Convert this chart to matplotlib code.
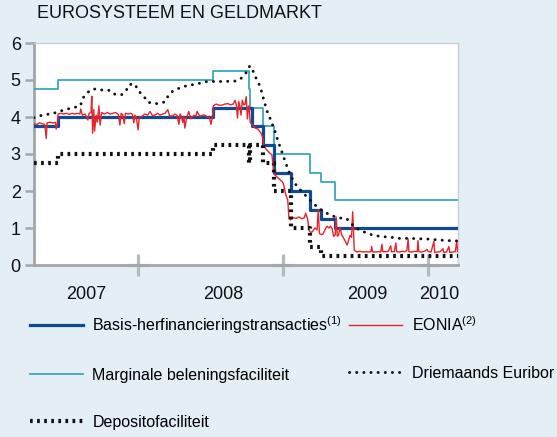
import matplotlib
matplotlib.use("Agg")
import matplotlib.pyplot as plt
import matplotlib.dates as mdates
from matplotlib.lines import Line2D
import pandas as pd

plt.rcParams['font.family'] = ['Liberation Sans', 'DejaVu Sans']
plt.rcParams['mathtext.fontset'] = 'custom'
plt.rcParams['mathtext.rm'] = 'Liberation Sans'
plt.rcParams['mathtext.it'] = 'Liberation Sans'

# ---------------- data ----------------
x_start = '2007-04-13'
x_end = '2010-03-19'

mro_dates = ['2007-04-13', '2007-06-13', '2008-07-09', '2008-10-15', '2008-11-12',
             '2008-12-10', '2009-01-21', '2009-03-11', '2009-04-08', '2009-05-13', '2010-03-19']
mro_values = [3.75, 4.00, 4.25, 3.75, 3.25, 2.50, 2.00, 1.50, 1.25, 1.00, 1.00]

mlf_dates = ['2007-04-13', '2007-06-13', '2008-07-09', '2008-10-08', '2008-10-09',
             '2008-11-12', '2008-12-10', '2009-03-11', '2009-04-08', '2009-05-13', '2010-03-19']
mlf_values = [4.75, 5.00, 5.25, 4.75, 4.25, 3.75, 3.00, 2.50, 2.25, 1.75, 1.75]

dep_dates = ['2007-04-13', '2007-06-13', '2008-07-09', '2008-10-08', '2008-10-09',
             '2008-11-12', '2008-12-10', '2009-01-21', '2009-03-11', '2009-04-08', '2010-03-19']
dep_values = [2.75, 3.00, 3.25, 2.75, 3.25, 2.75, 2.00, 1.00, 0.50, 0.25, 0.25]

euribor_dates = ['2007-04-13', '2007-05-01', '2007-06-01', '2007-07-01', '2007-08-01', '2007-08-08',
                 '2007-08-15', '2007-09-01', '2007-09-15', '2007-10-01', '2007-10-20', '2007-11-01',
                 '2007-11-20', '2007-12-01', '2007-12-10', '2007-12-24', '2008-01-01', '2008-01-15',
                 '2008-01-25', '2008-02-15', '2008-03-01', '2008-03-10', '2008-03-18', '2008-04-01',
                 '2008-05-01', '2008-06-01', '2008-06-15', '2008-07-01', '2008-08-01', '2008-09-01',
                 '2008-09-15', '2008-09-30', '2008-10-09', '2008-10-15', '2008-10-23', '2008-11-01',
                 '2008-11-07', '2008-11-15', '2008-11-22', '2008-12-01', '2008-12-12', '2008-12-20',
                 '2008-12-31', '2009-01-08', '2009-01-16', '2009-01-28', '2009-02-06', '2009-02-18',
                 '2009-03-06', '2009-03-23', '2009-04-08', '2009-04-25', '2009-05-08', '2009-05-25',
                 '2009-06-10', '2009-06-26', '2009-07-12', '2009-07-30', '2009-08-15', '2009-09-05',
                 '2009-10-01', '2009-10-20', '2009-11-15', '2009-12-10', '2010-01-05', '2010-01-25',
                 '2010-02-20', '2010-03-19']
euribor_values = [3.98, 4.04, 4.10, 4.20, 4.28, 4.30,
                  4.52, 4.72, 4.76, 4.73, 4.72, 4.62,
                  4.60, 4.70, 4.88, 4.89, 4.71, 4.57,
                  4.40, 4.36, 4.38, 4.42, 4.60, 4.73,
                  4.84, 4.90, 4.95, 4.96, 4.96, 4.97,
                  5.02, 5.20, 5.38, 5.30, 5.09, 4.90,
                  4.72, 4.40, 4.15, 3.92, 3.60, 3.33,
                  3.00, 2.75, 2.52, 2.25, 2.12, 1.98,
                  1.80, 1.62, 1.49, 1.38, 1.32, 1.27,
                  1.26, 1.08, 0.95, 0.87, 0.81, 0.77,
                  0.75, 0.72, 0.72, 0.71, 0.70, 0.68,
                  0.66, 0.65]

eonia_dates = [
    '2007-04-13', '2007-04-20', '2007-04-27', '2007-05-04', '2007-05-10', '2007-05-14', '2007-05-16',
    '2007-05-23', '2007-05-30', '2007-06-06', '2007-06-08', '2007-06-11', '2007-06-13', '2007-06-20',
    '2007-06-27', '2007-07-04', '2007-07-11', '2007-07-18', '2007-07-25', '2007-08-01', '2007-08-07',
    '2007-08-09', '2007-08-13', '2007-08-20', '2007-08-27', '2007-08-30', '2007-09-04', '2007-09-06',
    '2007-09-08', '2007-09-11', '2007-09-13', '2007-09-17', '2007-09-20', '2007-09-24', '2007-09-27',
    '2007-10-01', '2007-10-08', '2007-10-15', '2007-10-22', '2007-10-29', '2007-11-05', '2007-11-12',
    '2007-11-16', '2007-11-19', '2007-11-23', '2007-11-27', '2007-11-30', '2007-12-07', '2007-12-14',
    '2007-12-18', '2007-12-21', '2007-12-24', '2007-12-28',
    '2008-01-01', '2008-01-04', '2008-01-11', '2008-01-18', '2008-01-25', '2008-01-31', '2008-02-06',
    '2008-02-12', '2008-02-19', '2008-02-25', '2008-03-03', '2008-03-09', '2008-03-16', '2008-03-20',
    '2008-03-27', '2008-04-03', '2008-04-08', '2008-04-13', '2008-04-16', '2008-04-18', '2008-04-23',
    '2008-04-26', '2008-04-28', '2008-05-03', '2008-05-08', '2008-05-13', '2008-05-21', '2008-05-26',
    '2008-05-29', '2008-06-05', '2008-06-12', '2008-06-18', '2008-06-24', '2008-06-28', '2008-07-03',
    '2008-07-08', '2008-07-09', '2008-07-16', '2008-07-23', '2008-07-31', '2008-08-07', '2008-08-15',
    '2008-08-22', '2008-08-28', '2008-09-02', '2008-09-05', '2008-09-08', '2008-09-11', '2008-09-14',
    '2008-09-17', '2008-09-20', '2008-09-24', '2008-09-27', '2008-09-30', '2008-10-03', '2008-10-06',
    '2008-10-08', '2008-10-10', '2008-10-14', '2008-10-23', '2008-10-30', '2008-11-07', '2008-11-11',
    '2008-11-14', '2008-11-22', '2008-11-29', '2008-12-04', '2008-12-08', '2008-12-12', '2008-12-20',
    '2008-12-30',
    '2009-01-02', '2009-01-08', '2009-01-13', '2009-01-16', '2009-01-20', '2009-01-27', '2009-02-03',
    '2009-02-10', '2009-02-17', '2009-02-24', '2009-02-27', '2009-03-04', '2009-03-08', '2009-03-12',
    '2009-03-16', '2009-03-23', '2009-03-28', '2009-03-31', '2009-04-03', '2009-04-08', '2009-04-12',
    '2009-04-17', '2009-04-22', '2009-04-27', '2009-05-01', '2009-05-05', '2009-05-09', '2009-05-13',
    '2009-05-15', '2009-05-18', '2009-05-21', '2009-05-25', '2009-05-29', '2009-06-02', '2009-06-07',
    '2009-06-12', '2009-06-16', '2009-06-19', '2009-06-23', '2009-06-26', '2009-06-30', '2009-07-07',
    '2009-07-14', '2009-07-21', '2009-07-28', '2009-08-04', '2009-08-11', '2009-08-13', '2009-08-15',
    '2009-08-22', '2009-08-29', '2009-09-05', '2009-09-08', '2009-09-10', '2009-09-17', '2009-09-24',
    '2009-09-30', '2009-10-02', '2009-10-09', '2009-10-13', '2009-10-15', '2009-10-22', '2009-10-29',
    '2009-11-05', '2009-11-10', '2009-11-13', '2009-11-15', '2009-11-22', '2009-11-29', '2009-12-06',
    '2009-12-08', '2009-12-10', '2009-12-17', '2009-12-24', '2009-12-31',
    '2010-01-03', '2010-01-10', '2010-01-17', '2010-01-19', '2010-01-26', '2010-02-02', '2010-02-09',
    '2010-02-11', '2010-02-18', '2010-02-24', '2010-02-26', '2010-03-05', '2010-03-12', '2010-03-16',
    '2010-03-18']
eonia_values = [
    3.82, 3.80, 3.84, 3.82, 3.80, 3.42, 3.84,
    3.86, 3.84, 3.85, 3.67, 3.84, 4.08, 4.10,
    4.08, 4.10, 4.07, 4.10, 4.08, 4.10, 4.08,
    4.22, 4.05, 4.08, 3.92, 4.10, 4.12, 4.56,
    3.56, 4.20, 3.62, 4.05, 3.86, 4.30, 3.78,
    4.12, 4.08, 4.12, 4.08, 4.10, 4.12, 4.07,
    3.78, 4.10, 4.06, 3.82, 4.10, 4.08, 4.10,
    4.06, 3.84, 4.05, 3.95,
    3.65, 4.00, 4.02, 4.08, 4.05, 4.15, 4.04,
    4.05, 4.10, 4.05, 4.08, 4.10, 4.20, 4.04,
    4.02, 4.08, 4.05, 3.80, 4.08, 4.05, 3.85,
    4.02, 3.70, 4.00, 4.15, 3.95, 4.05, 4.02,
    4.15, 4.02, 4.05, 4.05, 4.00, 4.02, 3.80,
    4.05, 4.30, 4.35, 4.32, 4.32, 4.35, 4.36,
    4.33, 4.35, 4.45, 4.33, 3.97, 4.42, 4.30,
    4.05, 4.45, 4.32, 4.35, 4.55, 3.95, 4.30,
    4.20, 3.86, 3.80, 3.70, 3.67, 3.56, 3.43,
    3.20, 3.10, 3.02, 2.98, 2.57, 2.43, 2.35,
    2.25,
    2.20, 1.90, 1.75, 1.25, 1.22, 1.28, 1.26,
    1.30, 1.25, 1.28, 1.40, 1.25, 0.93, 0.88,
    0.90, 1.00, 0.95, 1.50, 0.85, 0.82, 0.84,
    0.95, 1.05, 1.00, 1.05, 0.98, 0.77, 0.82,
    1.30, 0.78, 0.80, 1.02, 0.82, 0.75, 0.65,
    0.54, 0.68, 0.80, 0.75, 1.44, 0.40, 0.35,
    0.37, 0.35, 0.36, 0.35, 0.36, 0.50, 0.36,
    0.35, 0.36, 0.35, 0.56, 0.36, 0.36, 0.37,
    0.52, 0.36, 0.36, 0.60, 0.36, 0.35, 0.37,
    0.36, 0.40, 0.70, 0.36, 0.35, 0.37, 0.36,
    0.66, 0.36, 0.35, 0.37, 0.42,
    0.36, 0.35, 0.64, 0.34, 0.35, 0.36, 0.44,
    0.34, 0.35, 0.50, 0.34, 0.35, 0.36, 0.65,
    0.36]

year_starts = ['2008-01-01', '2009-01-01', '2010-01-01']
year_labels = ['2007', '2008', '2009', '2010']
year_label_dates = ['2007-08-22', '2008-08-04', '2009-08-02', '2010-01-30']
y_ticks = [0, 1, 2, 3, 4, 5, 6]

labels = [r'Basis-herfinancieringstransacties$^{(1)}$', 'Marginale beleningsfaciliteit',
          'Depositofaciliteit', r'EONIA$^{(2)}$', 'Driemaands Euribor']

# ---------------- style ----------------
BG = '#e3eef5'
C_MRO = '#0f4a92'
C_MLF = '#3aa8bb'
C_EON = '#e8232b'
C_BLK = '#111111'

td = lambda s: pd.to_datetime(s)

fig = plt.figure(figsize=(5.57, 4.37), dpi=100)
fig.patch.set_facecolor(BG)
ax = fig.add_axes([34/557, 1-265/437, (458-34)/557, (265-43)/437])
ax.set_facecolor('white')

eur_style = dict(color=C_BLK, lw=2.1, linestyle=(0, (0.05, 2.4)), dash_capstyle='round')
dep_style = dict(color=C_BLK, lw=3.0, linestyle=(0, (0.65, 1.05)), dash_capstyle='butt')

ax.plot(td(mlf_dates), mlf_values, drawstyle='steps-post', color=C_MLF, lw=1.3, zorder=3)
ax.plot(td(mro_dates), mro_values, drawstyle='steps-post', color=C_MRO, lw=2.3, zorder=4)
ax.plot(td(eonia_dates), eonia_values, color=C_EON, lw=1.0, zorder=5)
ax.plot(td(euribor_dates), euribor_values, zorder=6, **eur_style)
ax.plot(td(dep_dates), dep_values, drawstyle='steps-post', zorder=6, **dep_style)

ax.set_xlim(td(x_start), td(x_end))
ax.set_ylim(0, 6)

# axes frame
for side in ['left', 'bottom']:
    ax.spines[side].set_color('#a3a6a9')
    ax.spines[side].set_linewidth(2.0)
for side in ['top', 'right']:
    ax.spines[side].set_color('#c9d0d6')
    ax.spines[side].set_linewidth(1.0)

ax.set_yticks(y_ticks)
ax.tick_params(axis='y', length=6.5, width=1.8, color='#a3a6a9', pad=3, labelsize=13,
               labelcolor='#111111')
ax.set_xticks(td(year_label_dates))
ax.set_xticklabels(year_labels)
ax.tick_params(axis='x', length=0, pad=15, labelsize=13, labelcolor='#111111')

# year-boundary crosses on the x axis
ax.plot(td(year_starts), [0]*len(year_starts), linestyle='none', marker='+', ms=16,
        mew=2.3, color='#b5babe', clip_on=False, zorder=2)

fig.text(37/557, 1-14/437, 'EUROSYSTEEM EN GELDMARKT', fontsize=13, ha='left', va='center',
         color='#111111')

handles = [Line2D([], [], color=C_MRO, lw=2.3),
           Line2D([], [], color=C_MLF, lw=1.3),
           Line2D([], [], **dep_style),
           Line2D([], [], color=C_EON, lw=1.0),
           Line2D([], [], **eur_style)]
fig.legend(handles, labels, ncol=2, loc='upper left', bbox_to_anchor=(30/557, 1-314/437),
           frameon=False, fontsize=11.5, handlelength=3.3, handletextpad=0.6,
           columnspacing=0.45, labelspacing=2.0, borderaxespad=0, borderpad=0)

fig.savefig('out.png', dpi=100, facecolor=BG)
